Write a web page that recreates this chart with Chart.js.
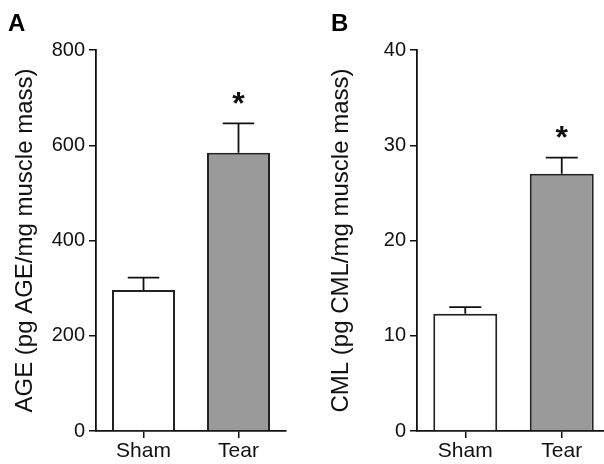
<!DOCTYPE html>
<html>
<head>
<meta charset="utf-8">
<script src="https://cdn.jsdelivr.net/npm/chart.js@4"></script>
<style>
  html, body { margin: 0; padding: 0; background: #fff; }
  #wrap { position: relative; width: 604px; height: 464px; overflow: hidden; }
  .panel { position: absolute; top: 0; height: 464px; }
  .letter { position: absolute; top: 9px; font: bold 24px "Liberation Sans", Arial, sans-serif; color: #000; }
</style>
</head>
<body>
<div id="wrap">
  <div class="panel" style="left:0;width:300px"><canvas id="ageChart"></canvas></div>
  <div class="panel" style="left:300px;width:310px"><canvas id="cmlChart"></canvas></div>
  <div class="letter" style="left:8px">A</div>
  <div class="letter" style="left:331px">B</div>
</div>
<script>
// data
const groups = ['Sham', 'Tear'];
const ageMean = [296, 584];
const ageSem = [26, 62];
const ageTicks = [0, 200, 400, 600, 800];
const cmlMean = [12.3, 27.0];
const cmlSem = [0.7, 1.7];
const cmlTicks = [0, 10, 20, 30, 40];
const significant = [false, true];

const FONT = '"Liberation Sans", Arial, sans-serif';

// error bars (upper only) + asterisk for significance
const errorBars = {
  id: 'errorBars',
  afterDatasetsDraw(chart, args, opts) {
    const ctx = chart.ctx;
    const meta = chart.getDatasetMeta(0);
    const y = chart.scales.y;
    ctx.save();
    ctx.strokeStyle = '#111';
    ctx.lineWidth = 1.8;
    meta.data.forEach((bar, i) => {
      const top = y.getPixelForValue(opts.mean[i]);
      const err = y.getPixelForValue(opts.mean[i] + opts.sem[i]);
      const half = bar.width / 4;
      ctx.beginPath();
      ctx.moveTo(bar.x, top);
      ctx.lineTo(bar.x, err);
      ctx.moveTo(bar.x - half, err);
      ctx.lineTo(bar.x + half, err);
      ctx.stroke();
      if (opts.sig[i]) {
        ctx.fillStyle = '#111';
        ctx.font = 'bold 32px ' + FONT;
        ctx.textAlign = 'center';
        ctx.textBaseline = 'middle';
        ctx.fillText('*', bar.x, err - 18);
      }
    });
    ctx.restore();
  }
};

function makeChart(id, mean, sem, ticks, title, yWidth, titlePad, w, padRight) {
  const canvas = document.getElementById(id);
  canvas.width = w;
  canvas.height = 464;
  return new Chart(canvas, {
    type: 'bar',
    data: {
      labels: groups,
      datasets: [{
        data: mean,
        backgroundColor: ['#ffffff', '#9a9a9a'],
        borderColor: '#222',
        borderWidth: 2,
        borderSkipped: 'bottom',
        barPercentage: 0.663,
        categoryPercentage: 1
      }]
    },
    options: {
      responsive: false,
      animation: false,
      layout: { padding: { top: 50, left: 0, right: padRight, bottom: 0 } },
      plugins: {
        legend: { display: false },
        tooltip: { enabled: false },
        errorBars: { mean: mean, sem: sem, sig: significant }
      },
      scales: {
        x: {
          offset: true,
          grid: { display: true, offset: false, drawOnChartArea: false, drawTicks: true, tickLength: 7, color: '#111', lineWidth: 1.5 },
          border: { display: true, color: '#111', width: 1.8 },
          ticks: { color: '#111', font: { family: FONT, size: 21 }, padding: 1 },
          afterFit: s => { s.height = 33; }
        },
        y: {
          min: ticks[0],
          max: ticks[ticks.length - 1],
          afterBuildTicks: s => { s.ticks = ticks.map(v => ({ value: v })); },
          grid: { display: true, drawOnChartArea: false, drawTicks: true, tickLength: 7, color: '#111', lineWidth: 1.5 },
          border: { display: true, color: '#111', width: 1.8 },
          ticks: { color: '#111', font: { family: FONT, size: 20 }, padding: 4 },
          title: {
            display: true,
            text: title,
            color: '#111',
            font: { family: FONT, size: 24 },
            padding: { top: titlePad, bottom: 0 }
          },
          afterFit: s => { s.width = yWidth; }
        }
      }
    },
    plugins: [errorBars]
  });
}

makeChart('ageChart', ageMean, ageSem, ageTicks, 'AGE (pg AGE/mg muscle mass)', 96, 11, 300, 14);
makeChart('cmlChart', cmlMean, cmlSem, cmlTicks, 'CML (pg CML/mg muscle mass)', 117, 27, 310, 0);
</script>
</body>
</html>
